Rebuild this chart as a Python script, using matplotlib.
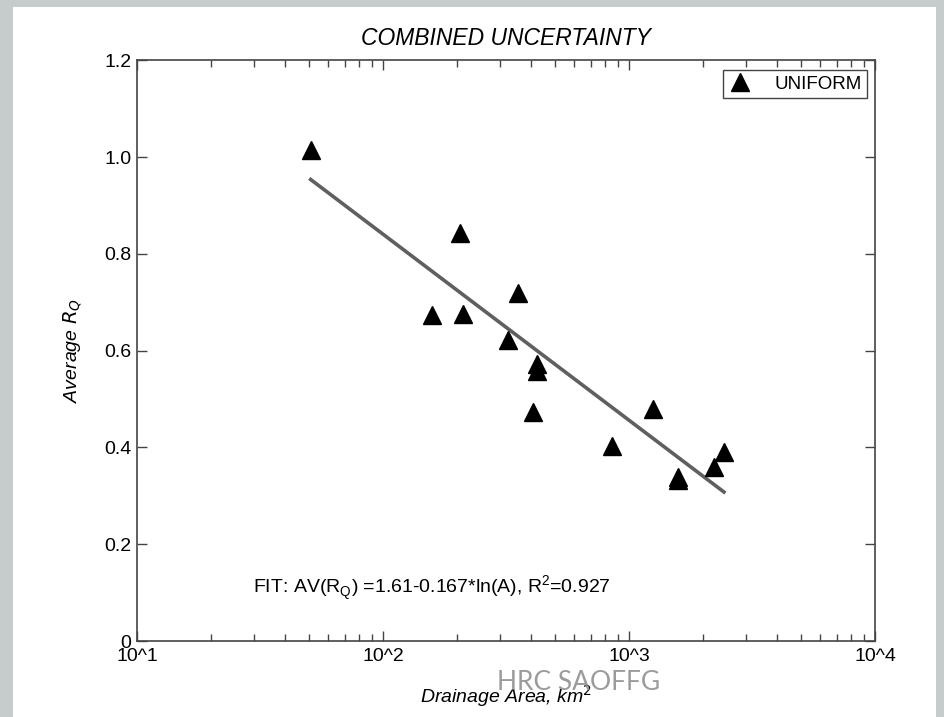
import numpy as np
import matplotlib
matplotlib.use("Agg")
import matplotlib.pyplot as plt
import matplotlib.ticker as tic
from matplotlib.patches import Rectangle

plt.rcParams["font.family"] = ["Liberation Sans", "DejaVu Sans"]

# data
area = [50.8, 205.6, 158, 211.8, 354.7, 321, 423.6, 423.6, 406, 851, 1247, 1578, 1578, 2218, 2432]
avg_rq = [1.016, 0.843, 0.674, 0.677, 0.720, 0.622, 0.573, 0.558, 0.473, 0.404, 0.480, 0.340, 0.333, 0.360, 0.391]
fit_a, fit_b = 1.61, -0.167
fit_range = [50.8, 2432]
xtick_vals = [10, 100, 1000, 10000]
xtick_labels = ["10^1", "10^2", "10^3", "10^4"]
ytick_vals = [0, 0.2, 0.4, 0.6, 0.8, 1.0, 1.2]
ytick_labels = ["0", "0.2", "0.4", "0.6", "0.8", "1.0", "1.2"]

W, H = 945, 717
fig = plt.figure(figsize=(W/100, H/100), dpi=100)
fig.patch.set_facecolor("#c6cbcc")
fig.add_artist(Rectangle((13/W, 0), (936-13)/W, (H-7)/H, transform=fig.transFigure,
                         facecolor="white", edgecolor="none", zorder=0))

ax = fig.add_axes([137/W, (H-641)/H, (875-137)/W, (641-60.5)/H])
ax.set_facecolor("white")

# fit line and points
fx = np.array(fit_range)
ax.plot(fx, fit_a + fit_b*np.log(fx), color="#5f5f5f", lw=2.6, zorder=2)
ax.plot(area, avg_rq, ls="none", marker="^", ms=13.5, color="black", label="UNIFORM", zorder=3)

ax.set_xscale("log")
ax.set_xlim(10, 10000)
ax.set_ylim(0, 1.2)
ax.set_xticks(xtick_vals)
ax.set_xticklabels(xtick_labels, fontsize=14)
ax.xaxis.set_minor_locator(tic.LogLocator(base=10, subs=np.arange(2, 10)))
ax.xaxis.set_minor_formatter(tic.NullFormatter())
ax.set_yticks(ytick_vals)
ax.set_yticklabels(ytick_labels, fontsize=14)
ax.tick_params(which="both", direction="in", top=True, right=True, color="#444444", width=1)
ax.tick_params(which="major", length=7)
ax.tick_params(axis="x", which="major", pad=5)
ax.tick_params(axis="y", which="major", pad=4)
ax.tick_params(which="minor", length=5)
for s in ax.spines.values():
    s.set_color("#444444")
    s.set_linewidth(1.2)

ax.set_title("COMBINED UNCERTAINTY", fontsize=16.5, style="italic", pad=11)
ax.set_ylabel("Average $R_Q$", fontsize=14, style="italic")
ax.yaxis.set_label_coords(-0.072, 0.5)
ax.set_xlabel("Drainage Area, km$^2$", fontsize=14, style="italic")
ax.xaxis.set_label_coords(0.5, -0.072)

ax.text(0.157, 0.09, "FIT: AV(R$_\\mathregular{Q}$) =1.61-0.167*ln(A), R$^\\mathregular{2}$=0.927",
        transform=ax.transAxes, fontsize=14, va="center", ha="left")

leg = ax.legend(loc="upper right", bbox_to_anchor=(0.989, 0.984), borderaxespad=0,
                fancybox=False, fontsize=13.5, handlelength=1.2, handletextpad=1.2,
                borderpad=0.3, framealpha=1)
leg.get_frame().set_edgecolor("#444444")
leg.get_frame().set_linewidth(1)

# watermark
fig.text(579/W, 1-683/H, "HRC SAOFFG", fontsize=19, color="#8a8a8a", alpha=0.85,
         ha="center", va="center", family=["Lato", "DejaVu Sans"])

fig.savefig("out.png", dpi=100, facecolor=fig.get_facecolor())
